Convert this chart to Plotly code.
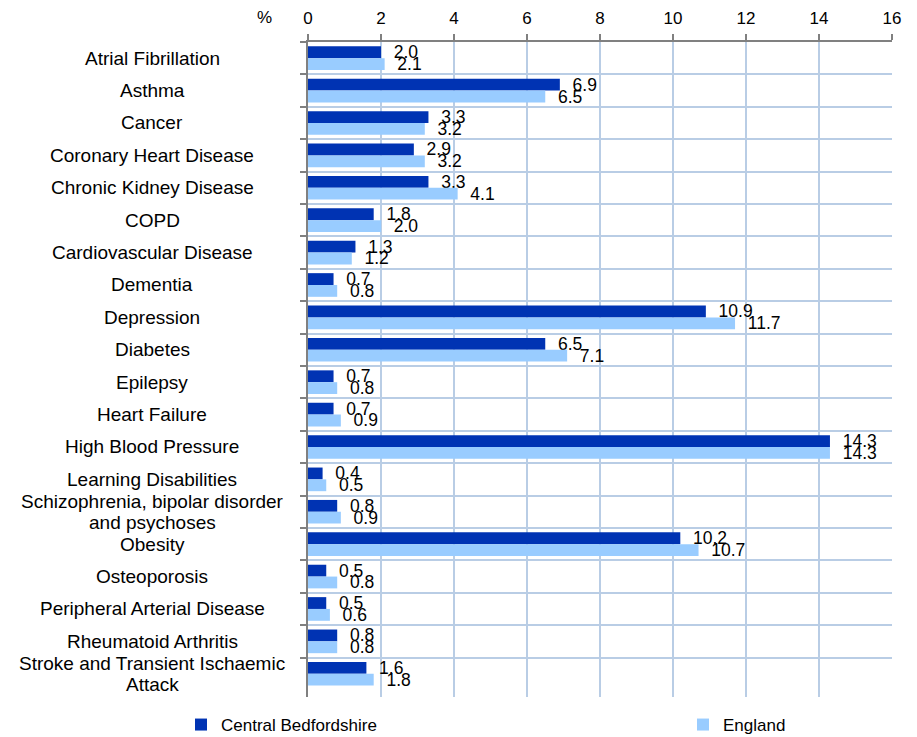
import plotly.graph_objects as go

categories = [
    "Atrial Fibrillation", "Asthma", "Cancer", "Coronary Heart Disease",
    "Chronic Kidney Disease", "COPD", "Cardiovascular Disease", "Dementia",
    "Depression", "Diabetes", "Epilepsy", "Heart Failure", "High Blood Pressure",
    "Learning Disabilities", "Schizophrenia, bipolar disorder<br>and psychoses",
    "Obesity", "Osteoporosis", "Peripheral Arterial Disease",
    "Rheumatoid Arthritis", "Stroke and Transient Ischaemic<br>Attack",
]
central_beds = [2.0, 6.9, 3.3, 2.9, 3.3, 1.8, 1.3, 0.7, 10.9, 6.5, 0.7, 0.7, 14.3,
                0.4, 0.8, 10.2, 0.5, 0.5, 0.8, 1.6]
england = [2.1, 6.5, 3.2, 3.2, 4.1, 2.0, 1.2, 0.8, 11.7, 7.1, 0.8, 0.9, 14.3,
           0.5, 0.9, 10.7, 0.8, 0.6, 0.8, 1.8]
series_names = ["Central Bedfordshire", "England"]
x_ticks = [0, 2, 4, 6, 8, 10, 12, 14, 16]

FONT = "Liberation Sans, Arial, sans-serif"
colors = ["#0033B3", "#99CCFF"]
legends = ["legend", "legend2"]

fig = go.Figure()
for name, vals, col, lg in zip(series_names, [central_beds, england], colors, legends):
    fig.add_trace(go.Bar(
        y=categories, x=vals, name=name, orientation="h", legend=lg,
        marker=dict(color=col, line=dict(width=0)),
        text=vals, texttemplate="\u00a0\u00a0%{x:.1f}", textposition="outside",
        constraintext="none", cliponaxis=False,
        textfont=dict(family=FONT, size=17.5, color="black"),
    ))

for c in categories:
    lines = c.split("<br>")
    n = len(lines)
    for i, ln in enumerate(lines):
        shift = (-(i - (n - 1) / 2)) * 21.5
        fig.add_annotation(x=-0.267, xref="paper", y=c, yref="y", text=ln,
                           yshift=shift, showarrow=False, xanchor="center",
                           yanchor="middle", align="center",
                           font=dict(family=FONT, size=19, color="black"))

fig.add_annotation(x=(264 - 308) / 584, xref="paper", y=1, yref="paper", yshift=25,
                   text="%", showarrow=False, xanchor="center", yanchor="middle",
                   font=dict(family=FONT, size=17, color="black"))

leg_common = dict(orientation="h", xref="container", yref="container",
                  xanchor="left", yanchor="middle", bgcolor="rgba(0,0,0,0)",
                  font=dict(family=FONT, size=17, color="black"), itemwidth=30)

fig.update_layout(
    width=917, height=737,
    margin=dict(l=308, r=25, t=42, b=40, autoexpand=False),
    paper_bgcolor="white", plot_bgcolor="white",
    barmode="group", bargap=0.27, bargroupgap=0,
    font=dict(family=FONT, size=17, color="black"),
    showlegend=True,
    legend=dict(x=181 / 917, y=1 - 725 / 737, **leg_common),
    legend2=dict(x=683 / 917, y=1 - 725 / 737, **leg_common),
    xaxis=dict(side="top", range=[0, 16], tickvals=x_ticks,
               ticks="outside", ticklen=6, tickcolor="#808080", tickwidth=2,
               ticklabelstandoff=3,
               showline=True, linecolor="#808080", linewidth=2,
               showgrid=True, gridcolor="#B9CDE5", gridwidth=2,
               zeroline=False, tickfont=dict(family=FONT, size=17)),
    yaxis=dict(type="category", autorange="reversed", tickson="boundaries",
               showticklabels=False, ticks="outside", ticklen=6,
               tickcolor="#808080", tickwidth=2,
               showline=True, linecolor="#808080", linewidth=2,
               showgrid=True, gridcolor="#B9CDE5", gridwidth=2),
)

fig.write_html("out.html", config={"displayModeBar": False})

with open("out.html", "r", encoding="utf-8") as f:
    html = f.read()
html = html.replace("<head>", "<head><style>html,body{margin:0;padding:0;overflow:hidden;}</style>", 1)
with open("out.html", "w", encoding="utf-8") as f:
    f.write(html)
